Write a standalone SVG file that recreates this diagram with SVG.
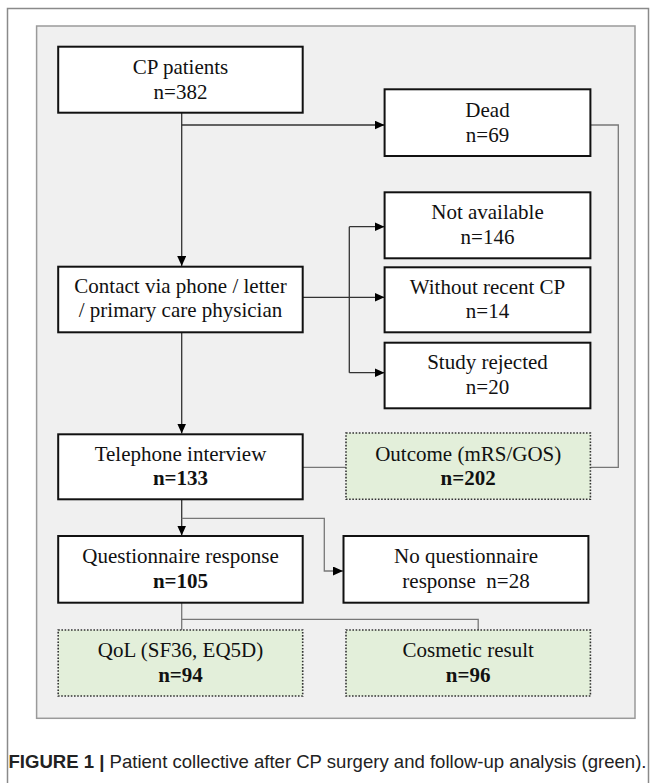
<svg xmlns="http://www.w3.org/2000/svg" width="652" height="783" viewBox="0 0 652 783">
<style>
.box{fill:#fff;stroke:#111;stroke-width:2}
.grn{fill:#e3efda;stroke:#333;stroke-width:1.6;stroke-dasharray:1.6 1.6}
.t{font-family:"Liberation Serif","Times New Roman",serif;font-size:21px;fill:#111;text-anchor:middle}
.b{font-weight:bold}
.c{fill:none;stroke:#333;stroke-width:1.3}
.g{fill:none;stroke:#777;stroke-width:1.3}
.cap{font-family:"Liberation Sans",Arial,sans-serif;font-size:18.5px;fill:#222}
</style>
<defs>
<marker id="ah" markerWidth="10" markerHeight="9" refX="10" refY="4.5" orient="auto" markerUnits="userSpaceOnUse">
<path d="M0,0 L10,4.5 L0,9 Z" fill="#000"/>
</marker>
</defs>
<rect x="7.5" y="8.5" width="641" height="800" fill="#fff" stroke="#8a8a8a" stroke-width="1.5"/>
<rect x="36.6" y="26" width="598.4" height="692.3" fill="#f0f0f0" stroke="#9a9a9a" stroke-width="1.5"/>

<g id="connectors">
<path class="c" d="M181.7 112.7 V266" marker-end="url(#ah)"/>
<path class="c" d="M181.7 125 H384.5" marker-end="url(#ah)"/>
<path class="c" d="M181.7 332.3 V433.5" marker-end="url(#ah)"/>
<path class="c" d="M302.7 297.3 H384.5" marker-end="url(#ah)"/>
<path class="c" d="M349.3 226.7 V372.7"/>
<path class="c" d="M349.3 226.7 H384.5" marker-end="url(#ah)"/>
<path class="c" d="M349.3 372.7 H384.5" marker-end="url(#ah)"/>
<path class="g" d="M302.7 467.3 H346"/>
<path class="g" d="M590.4 125 H618.3 V467.3 H590.4"/>
<path class="c" d="M181.7 499.3 V535.5" marker-end="url(#ah)"/>
<path class="g" d="M181.7 518.3 H324.3 V571 H343" marker-end="url(#ah)"/>
<path class="g" d="M181.7 602.7 V630 M181.7 619.3 H478.2 V630"/>
</g>

<g id="cp"><rect class="box" x="58.2" y="46.7" width="244.5" height="66"/>
<text class="t" x="180.5" y="74">CP patients</text><text class="t" x="180.5" y="98.5">n=382</text></g>

<g id="dead"><rect class="box" x="384.6" y="89.3" width="205.8" height="66.7"/>
<text class="t" x="487.5" y="117">Dead</text><text class="t" x="487.5" y="141.5">n=69</text></g>

<g id="notavail"><rect class="box" x="384.6" y="192.3" width="205.8" height="66"/>
<text class="t" x="487.5" y="219">Not available</text><text class="t" x="487.5" y="243.5">n=146</text></g>

<g id="without"><rect class="box" x="384.6" y="267.3" width="205.8" height="65"/>
<text class="t" x="487.5" y="293.5">Without recent CP</text><text class="t" x="487.5" y="317.5">n=14</text></g>

<g id="rejected"><rect class="box" x="384.6" y="342.7" width="205.8" height="65.6"/>
<text class="t" x="487.5" y="369">Study rejected</text><text class="t" x="487.5" y="393.5">n=20</text></g>

<g id="contact"><rect class="box" x="58.2" y="266.7" width="244.5" height="65.6"/>
<text class="t" x="180.5" y="293.3">Contact via phone / letter</text><text class="t" x="180.5" y="317.3">/ primary care physician</text></g>

<g id="telephone"><rect class="box" x="58.2" y="434.3" width="244.5" height="65"/>
<text class="t" x="180.5" y="460.5">Telephone interview</text><text class="t b" x="180.5" y="485">n=133</text></g>

<g id="outcome"><rect class="grn" x="346" y="433" width="244.4" height="66.3"/>
<text class="t" x="468.2" y="460.5">Outcome (mRS/GOS)</text><text class="t b" x="468.2" y="485">n=202</text></g>

<g id="questionnaire"><rect class="box" x="58.2" y="536" width="244.5" height="66.7"/>
<text class="t" x="180.5" y="563">Questionnaire response</text><text class="t b" x="180.5" y="588">n=105</text></g>

<g id="noquestionnaire"><rect class="box" x="343.5" y="536" width="244.9" height="66.7"/>
<text class="t" x="466" y="563">No questionnaire</text><text class="t" x="466" y="588" xml:space="preserve">response  n=28</text></g>

<g id="qol"><rect class="grn" x="58.2" y="630" width="244.5" height="66"/>
<text class="t" x="180.5" y="657">QoL (SF36, EQ5D)</text><text class="t b" x="180.5" y="681.5">n=94</text></g>

<g id="cosmetic"><rect class="grn" x="346" y="630" width="244.4" height="66"/>
<text class="t" x="468.2" y="657">Cosmetic result</text><text class="t b" x="468.2" y="681.5">n=96</text></g>

<text class="cap" x="8.5" y="768" textLength="638" lengthAdjust="spacingAndGlyphs"><tspan font-weight="bold">FIGURE 1 | </tspan>Patient collective after CP surgery and follow-up analysis (green).</text>
</svg>
